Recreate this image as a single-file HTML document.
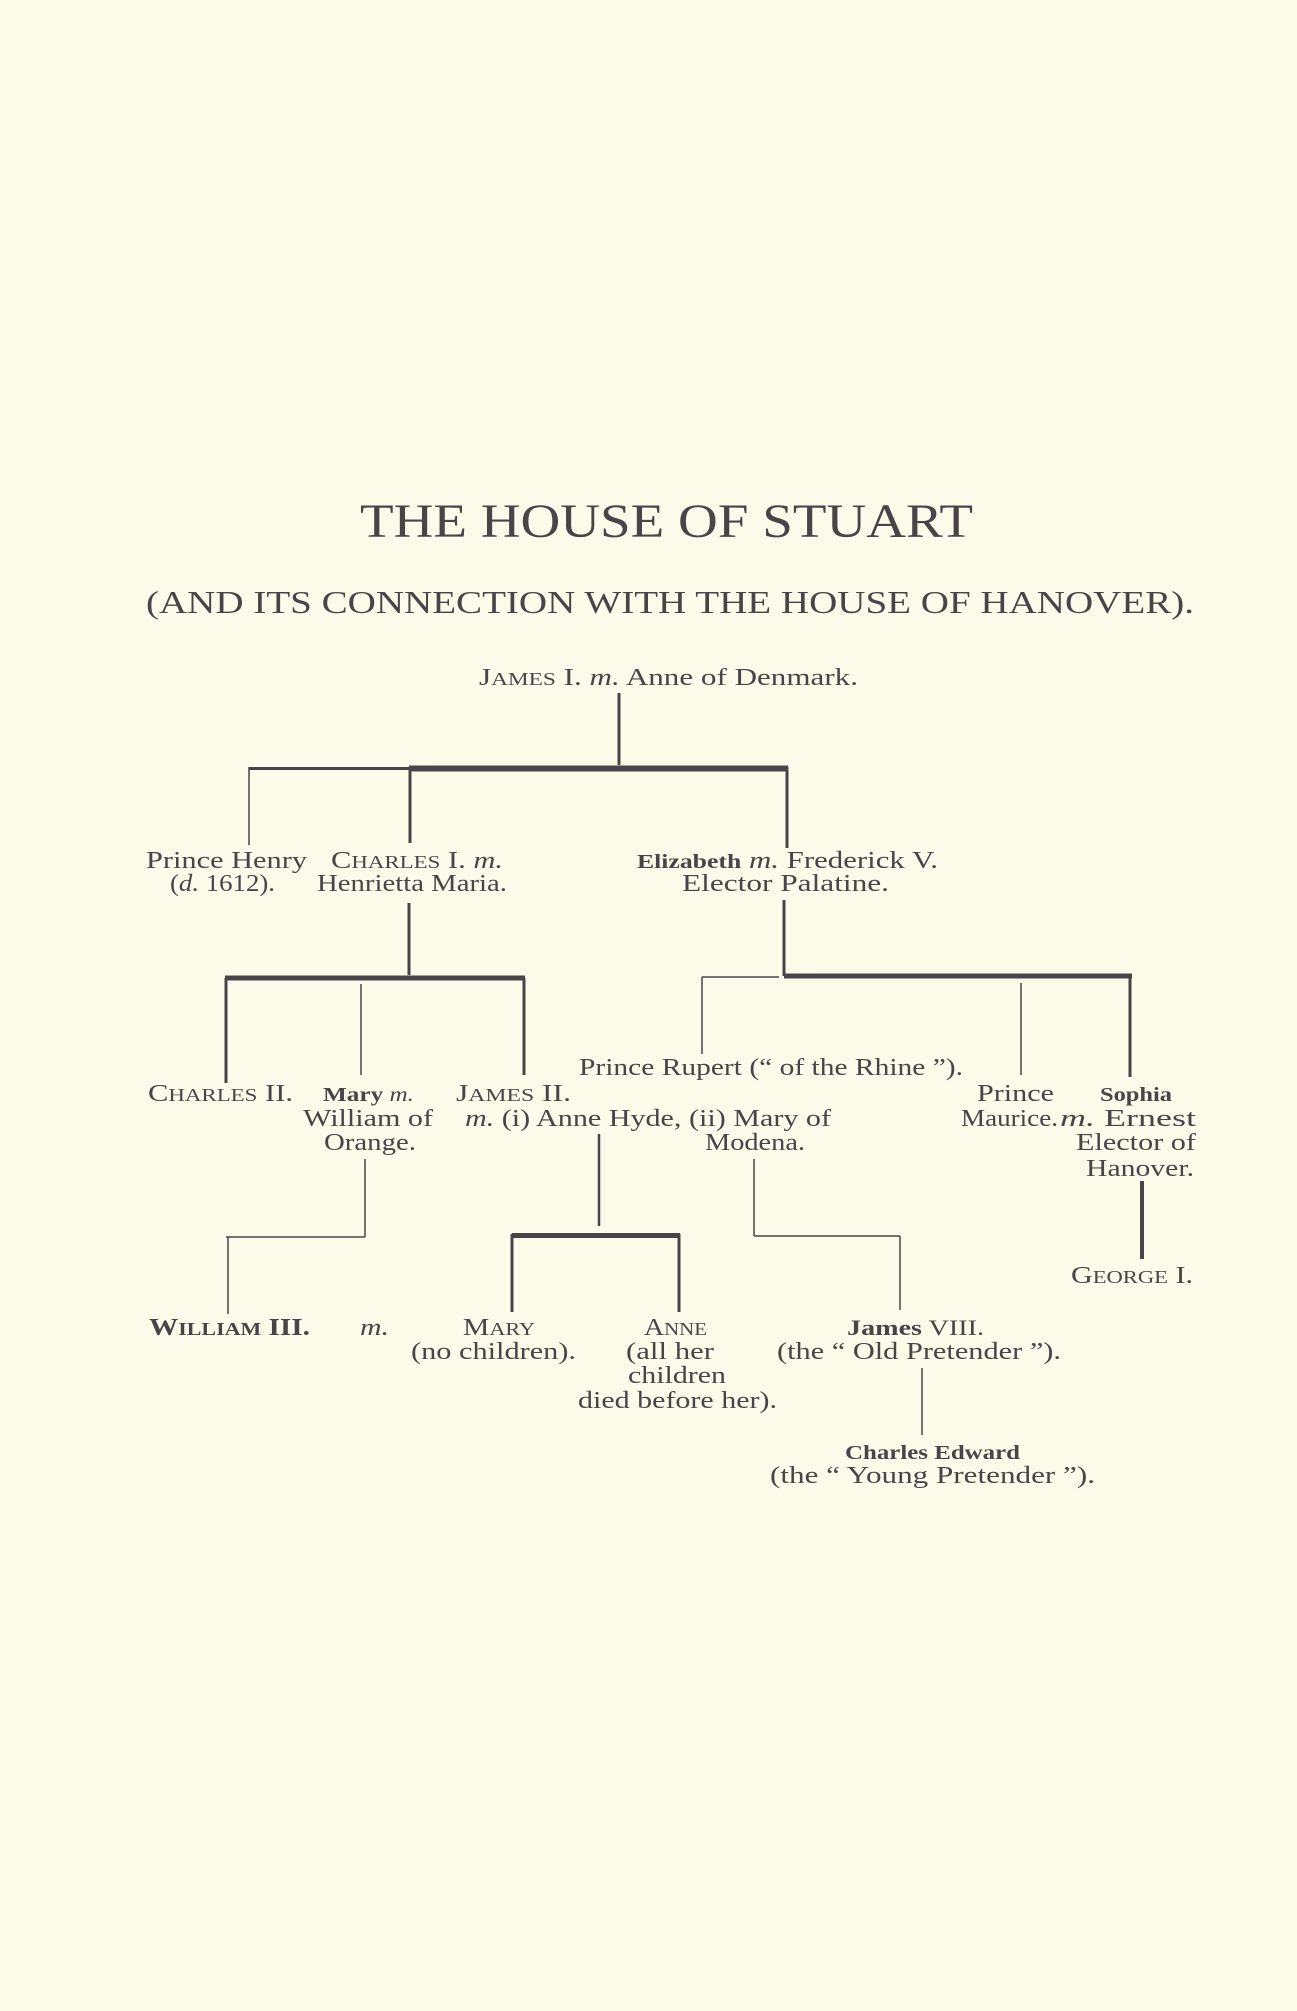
<!DOCTYPE html>
<html><head><meta charset="utf-8"><style>
html,body{margin:0;padding:0;background:#fcfbea;}
svg{display:block}
text{font-family:"Liberation Serif",serif;fill:#4a4448;}
</style></head><body>
<svg width="1297" height="2011" viewBox="0 0 1297 2011" xmlns="http://www.w3.org/2000/svg">
<rect width="1297" height="2011" fill="#fcfbea"/>
<g lengthAdjust="spacingAndGlyphs">
<text x="360" y="537" font-size="48" textLength="613" lengthAdjust="spacingAndGlyphs">THE HOUSE OF STUART</text>
<text x="146" y="613" font-size="32" textLength="1048" lengthAdjust="spacingAndGlyphs">(AND ITS CONNECTION WITH THE HOUSE OF HANOVER).</text>
<text x="479" y="685" font-size="24" textLength="379" lengthAdjust="spacingAndGlyphs">J<tspan font-size="18">AMES</tspan> I. <tspan font-style="italic">m.</tspan> Anne of Denmark.</text>

<text x="146" y="868" font-size="24" textLength="161" lengthAdjust="spacingAndGlyphs">Prince Henry</text>
<text x="170" y="891" font-size="24" textLength="105" lengthAdjust="spacingAndGlyphs">(<tspan font-style="italic">d.</tspan> 1612).</text>
<text x="331" y="868" font-size="24" textLength="172" lengthAdjust="spacingAndGlyphs">C<tspan font-size="18">HARLES</tspan> I. <tspan font-style="italic">m.</tspan></text>
<text x="317" y="891" font-size="24" textLength="190" lengthAdjust="spacingAndGlyphs">Henrietta Maria.</text>
<text x="637" y="868" font-size="24" textLength="301" lengthAdjust="spacingAndGlyphs"><tspan font-weight="bold" font-size="20">Elizabeth</tspan> <tspan font-style="italic">m.</tspan> Frederick V.</text>
<text x="682" y="891" font-size="24" textLength="207" lengthAdjust="spacingAndGlyphs">Elector Palatine.</text>

<text x="579" y="1075" font-size="24" textLength="384" lengthAdjust="spacingAndGlyphs">Prince Rupert (“ of the Rhine ”).</text>
<text x="148" y="1101" font-size="24" textLength="145" lengthAdjust="spacingAndGlyphs">C<tspan font-size="18">HARLES</tspan> II.</text>
<text x="323" y="1101" font-size="20" textLength="91" lengthAdjust="spacingAndGlyphs"><tspan font-weight="bold">Mary</tspan> <tspan font-style="italic">m.</tspan></text>
<text x="456" y="1101" font-size="24" textLength="115" lengthAdjust="spacingAndGlyphs">J<tspan font-size="18">AMES</tspan> II.</text>
<text x="977" y="1101" font-size="24" textLength="77" lengthAdjust="spacingAndGlyphs">Prince</text>
<text x="1100" y="1101" font-size="20" font-weight="bold" textLength="72" lengthAdjust="spacingAndGlyphs">Sophia</text>
<text x="303" y="1126" font-size="24" textLength="130" lengthAdjust="spacingAndGlyphs">William of</text>
<text x="465" y="1126" font-size="24" textLength="366" lengthAdjust="spacingAndGlyphs"><tspan font-style="italic">m.</tspan> (i) Anne Hyde, (ii) Mary of</text>
<text x="961" y="1126" font-size="24" textLength="97" lengthAdjust="spacingAndGlyphs">Maurice.</text>
<text x="1060" y="1126" font-size="24" textLength="136" lengthAdjust="spacingAndGlyphs"><tspan font-style="italic">m.</tspan> Ernest</text>
<text x="324" y="1150" font-size="24" textLength="92" lengthAdjust="spacingAndGlyphs">Orange.</text>
<text x="705" y="1150" font-size="24" textLength="100" lengthAdjust="spacingAndGlyphs">Modena.</text>
<text x="1076" y="1150" font-size="24" textLength="120" lengthAdjust="spacingAndGlyphs">Elector of</text>
<text x="1086" y="1176" font-size="24" textLength="108" lengthAdjust="spacingAndGlyphs">Hanover.</text>
<text x="1071" y="1283" font-size="24" textLength="122" lengthAdjust="spacingAndGlyphs">G<tspan font-size="18">EORGE</tspan> I.</text>

<text x="149" y="1335" font-size="24" font-weight="bold" textLength="161" lengthAdjust="spacingAndGlyphs">W<tspan font-size="18">ILLIAM</tspan> III.</text>
<text x="360" y="1335" font-size="24" font-style="italic" textLength="29" lengthAdjust="spacingAndGlyphs">m.</text>
<text x="463" y="1335" font-size="24" textLength="72" lengthAdjust="spacingAndGlyphs">M<tspan font-size="18">ARY</tspan></text>
<text x="644" y="1335" font-size="24" textLength="63" lengthAdjust="spacingAndGlyphs">A<tspan font-size="18">NNE</tspan></text>
<text x="847" y="1335" font-size="22" textLength="137" lengthAdjust="spacingAndGlyphs"><tspan font-weight="bold">James</tspan> VIII.</text>
<text x="411" y="1359" font-size="24" textLength="165" lengthAdjust="spacingAndGlyphs">(no children).</text>
<text x="626" y="1359" font-size="24" textLength="88" lengthAdjust="spacingAndGlyphs">(all her</text>
<text x="777" y="1359" font-size="24" textLength="284" lengthAdjust="spacingAndGlyphs">(the “ Old Pretender ”).</text>
<text x="628" y="1383" font-size="24" textLength="98" lengthAdjust="spacingAndGlyphs">children</text>
<text x="578" y="1408" font-size="24" textLength="199" lengthAdjust="spacingAndGlyphs">died before her).</text>
<text x="845" y="1459" font-size="20" font-weight="bold" textLength="175" lengthAdjust="spacingAndGlyphs">Charles Edward</text>
<text x="770" y="1483" font-size="24" textLength="325" lengthAdjust="spacingAndGlyphs">(the “ Young Pretender ”).</text>
</g>

<g stroke="#4a4448" fill="none" stroke-linecap="butt">
<!-- James I -->
<line x1="619" y1="693" x2="619" y2="765" stroke-width="3"/>
<line x1="409" y1="768.5" x2="788" y2="768.5" stroke-width="6"/>
<line x1="249" y1="768.5" x2="409" y2="768.5" stroke-width="3"/>
<line x1="249" y1="767" x2="249" y2="845" stroke-width="1.5"/>
<line x1="410" y1="767" x2="410" y2="843" stroke-width="3"/>
<line x1="787" y1="767" x2="787" y2="848" stroke-width="3"/>
<!-- Charles I -->
<line x1="409" y1="903" x2="409" y2="975" stroke-width="3"/>
<line x1="225" y1="978" x2="525" y2="978" stroke-width="5"/>
<line x1="226" y1="978" x2="226" y2="1083" stroke-width="3"/>
<line x1="361" y1="984" x2="361" y2="1075" stroke-width="1.5"/>
<line x1="524" y1="978" x2="524" y2="1075" stroke-width="3"/>
<!-- Elizabeth -->
<line x1="784" y1="900" x2="784" y2="976" stroke-width="3"/>
<line x1="784" y1="976" x2="1132" y2="976" stroke-width="5"/>
<line x1="702" y1="977" x2="779" y2="977" stroke-width="1.5"/>
<line x1="702" y1="977" x2="702" y2="1054" stroke-width="1.5"/>
<line x1="1021" y1="983" x2="1021" y2="1075" stroke-width="1.5"/>
<line x1="1130" y1="976" x2="1130" y2="1077" stroke-width="3"/>
<!-- Mary/William -->
<line x1="365" y1="1159" x2="365" y2="1237" stroke-width="1.5"/>
<line x1="226" y1="1237" x2="365" y2="1237" stroke-width="1.5"/>
<line x1="228" y1="1237" x2="228" y2="1314" stroke-width="1.5"/>
<!-- James II / Anne Hyde -->
<line x1="599" y1="1134" x2="599" y2="1226" stroke-width="2.5"/>
<line x1="512" y1="1235.5" x2="680" y2="1235.5" stroke-width="5"/>
<line x1="512" y1="1234" x2="512" y2="1312" stroke-width="3"/>
<line x1="679" y1="1234" x2="679" y2="1312" stroke-width="3"/>
<!-- Modena -->
<line x1="754" y1="1159" x2="754" y2="1236" stroke-width="1.5"/>
<line x1="754" y1="1236" x2="900" y2="1236" stroke-width="1.5"/>
<line x1="900" y1="1236" x2="900" y2="1310" stroke-width="1.5"/>
<!-- Sophia -->
<line x1="1142" y1="1181" x2="1142" y2="1259" stroke-width="4"/>
<!-- James VIII -->
<line x1="922" y1="1368" x2="922" y2="1435" stroke-width="1.5"/>
</g>
</svg>
</body></html>
